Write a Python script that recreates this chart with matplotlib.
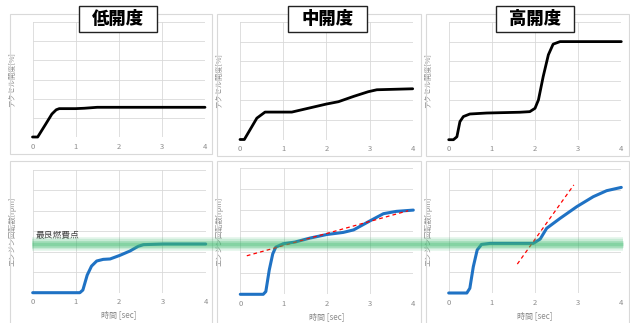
import numpy as np
import matplotlib
matplotlib.use('Agg')
import matplotlib.pyplot as plt
from matplotlib.patches import Rectangle
from matplotlib.lines import Line2D
from matplotlib.transforms import blended_transform_factory

plt.rcParams['font.family'] = ['Noto Sans CJK JP', 'DejaVu Sans']

W, H = 630, 323

# accel opening (top row), arbitrary grid units 0-6
t_low = [0, 0.12, 0.3, 0.45, 0.55, 0.62, 1.0, 1.2, 1.5, 4]
a_low = [0, 0, 0.65, 1.2, 1.42, 1.48, 1.48, 1.5, 1.55, 1.55]

t_mid = [0, 0.1, 0.39, 0.58, 1.2, 2.0, 2.28, 2.63, 2.97, 3.17, 4]
a_mid = [0, 0, 1.09, 1.4, 1.4, 1.81, 1.93, 2.2, 2.44, 2.54, 2.59]

t_high = [0, 0.11, 0.19, 0.26, 0.34, 0.49, 0.88, 1.65, 1.88, 2.0, 2.08, 2.19, 2.31, 2.42, 2.58, 4]
a_high = [0, 0, 0.15, 0.92, 1.18, 1.31, 1.36, 1.4, 1.43, 1.6, 2.03, 3.22, 4.33, 4.87, 5.0, 5.0]

# engine speed (bottom row)
tr_low = [0, 1.09, 1.16, 1.26, 1.36, 1.48, 1.63, 1.79, 2.02, 2.25, 2.44, 2.56, 3.02, 4]
r_low = [0, 0, 0.13, 0.86, 1.3, 1.55, 1.63, 1.65, 1.83, 2.04, 2.27, 2.35, 2.38, 2.38]

tr_mid = [0, 0.53, 0.59, 0.67, 0.75, 0.82, 0.99, 1.26, 1.61, 2.0, 2.38, 2.62, 3.0, 3.31, 3.61, 4]
r_mid = [0, 0, 0.13, 1.16, 1.92, 2.24, 2.4, 2.48, 2.67, 2.84, 2.94, 3.06, 3.49, 3.83, 3.94, 4.0]

tr_high = [0, 0.42, 0.49, 0.57, 0.66, 0.76, 0.96, 1.96, 2.12, 2.27, 2.58, 2.97, 3.35, 3.66, 4]
r_high = [0, 0, 0.23, 1.27, 2.08, 2.35, 2.4, 2.4, 2.61, 3.13, 3.61, 4.18, 4.66, 4.95, 5.11]

# tangent lines (red dashed)
tan_mid_t = [0.15, 3.88]
tan_mid_r = [1.83, 3.97]
tan_high_t = [1.59, 2.90]
tan_high_r = [1.40, 5.23]

best_rpm = 2.38

titles = ['低開度', '中開度', '高開度']

fig = plt.figure(figsize=(W / 100, H / 100), dpi=100)


def px_axes(x0, x1, ytop, ybot):
    return fig.add_axes([x0 / W, 1 - ybot / H, (x1 - x0) / W, (ybot - ytop) / H])


def frame(x0, x1, ytop, ybot, ec='#d9d9d9', lw=0.8, fc='none', z=0.5):
    r = Rectangle((x0 / W, 1 - ybot / H), (x1 - x0) / W, (ybot - ytop) / H,
                  transform=fig.transFigure, fill=(fc != 'none'), facecolor=fc,
                  edgecolor=ec, lw=lw, zorder=z)
    fig.add_artist(r)


# chart frames
frame(10, 212, 14, 154)
frame(217, 421, 14, 156)
frame(426, 629, 14, 156)
frame(10, 212, 161, 330)
frame(217, 421, 161, 330)
frame(426, 629, 161, 330)

top_pos = [(32.5, 205, 22, 137), (240, 412.7, 22, 139.5), (448.7, 621.3, 22, 139.7)]
bot_pos = [(32.7, 205.7, 170, 292.7), (240.3, 413.3, 168, 294.3), (448.7, 621.3, 169, 293)]

grid_c = '#d9d9d9'
lab_c = '#8c8c8c'


def style(ax):
    ax.set_xlim(0, 4)
    ax.set_ylim(0, 6)
    ax.set_xticks([0, 1, 2, 3, 4])
    ax.set_yticks(range(7))
    ax.set_yticklabels([])
    ax.grid(True, color=grid_c, lw=0.6)
    ax.set_axisbelow(True)
    for s in ax.spines.values():
        s.set_visible(False)
    ax.tick_params(length=0, labelsize=5.5, labelcolor=lab_c, pad=4)


top_data = [(t_low, a_low), (t_mid, a_mid), (t_high, a_high)]
bot_data = [(tr_low, r_low), (tr_mid, r_mid), (tr_high, r_high)]

bot_axes = []
for i in range(3):
    ax = px_axes(*top_pos[i])
    style(ax)
    ax.plot(top_data[i][0], top_data[i][1], color='black', lw=2.0,
            solid_joinstyle='round', solid_capstyle='round', clip_on=False)
    ax.set_ylabel('アクセル開度[%]', fontsize=5.2, color=lab_c, labelpad=8)

    ax2 = px_axes(*bot_pos[i])
    style(ax2)
    ax2.plot(bot_data[i][0], bot_data[i][1], color='#1f72c4', lw=2.2,
             solid_joinstyle='round', solid_capstyle='round', clip_on=False)
    ax2.set_ylabel('エンジン回転数[rpm]', fontsize=5.2, color=lab_c, labelpad=8)
    ax2.set_xlabel('時間 [sec]', fontsize=5.8, color=lab_c, labelpad=3)
    bot_axes.append(ax2)

bot_axes[1].plot(tan_mid_t, tan_mid_r, color='red', lw=0.9, ls=(0, (3, 2.5)))
bot_axes[2].plot(tan_high_t, tan_high_r, color='red', lw=0.9, ls=(0, (3, 2.5)))

bot_axes[0].text(0.07, best_rpm + 0.2, '最良燃費点', fontsize=6.3, color='#404040',
                 va='bottom', ha='left')

# best fuel band across all panels
tr = blended_transform_factory(fig.transFigure, bot_axes[0].transData)
for lw_, a_ in [(10, 0.12), (7.5, 0.18), (5, 0.25), (2.5, 0.3)]:
    fig.add_artist(Line2D([32 / W, 623 / W], [best_rpm, best_rpm], transform=tr,
                          color='#3dbb6e', lw=lw_, alpha=a_, solid_capstyle='butt',
                          zorder=5))

# title boxes
boxes = [(79, 157), (288, 367), (496, 574)]
for (x0, x1), ttl in zip(boxes, titles):
    frame(x0, x1, 6, 31.5, ec='#222222', lw=1.0, fc='white', z=6)
    fig.text((x0 + x1) / 2 / W, 1 - 19 / H, ttl, fontsize=12.5, fontweight='heavy',
             ha='center', va='center', color='black', zorder=7)

fig.savefig('out.png', dpi=100)
